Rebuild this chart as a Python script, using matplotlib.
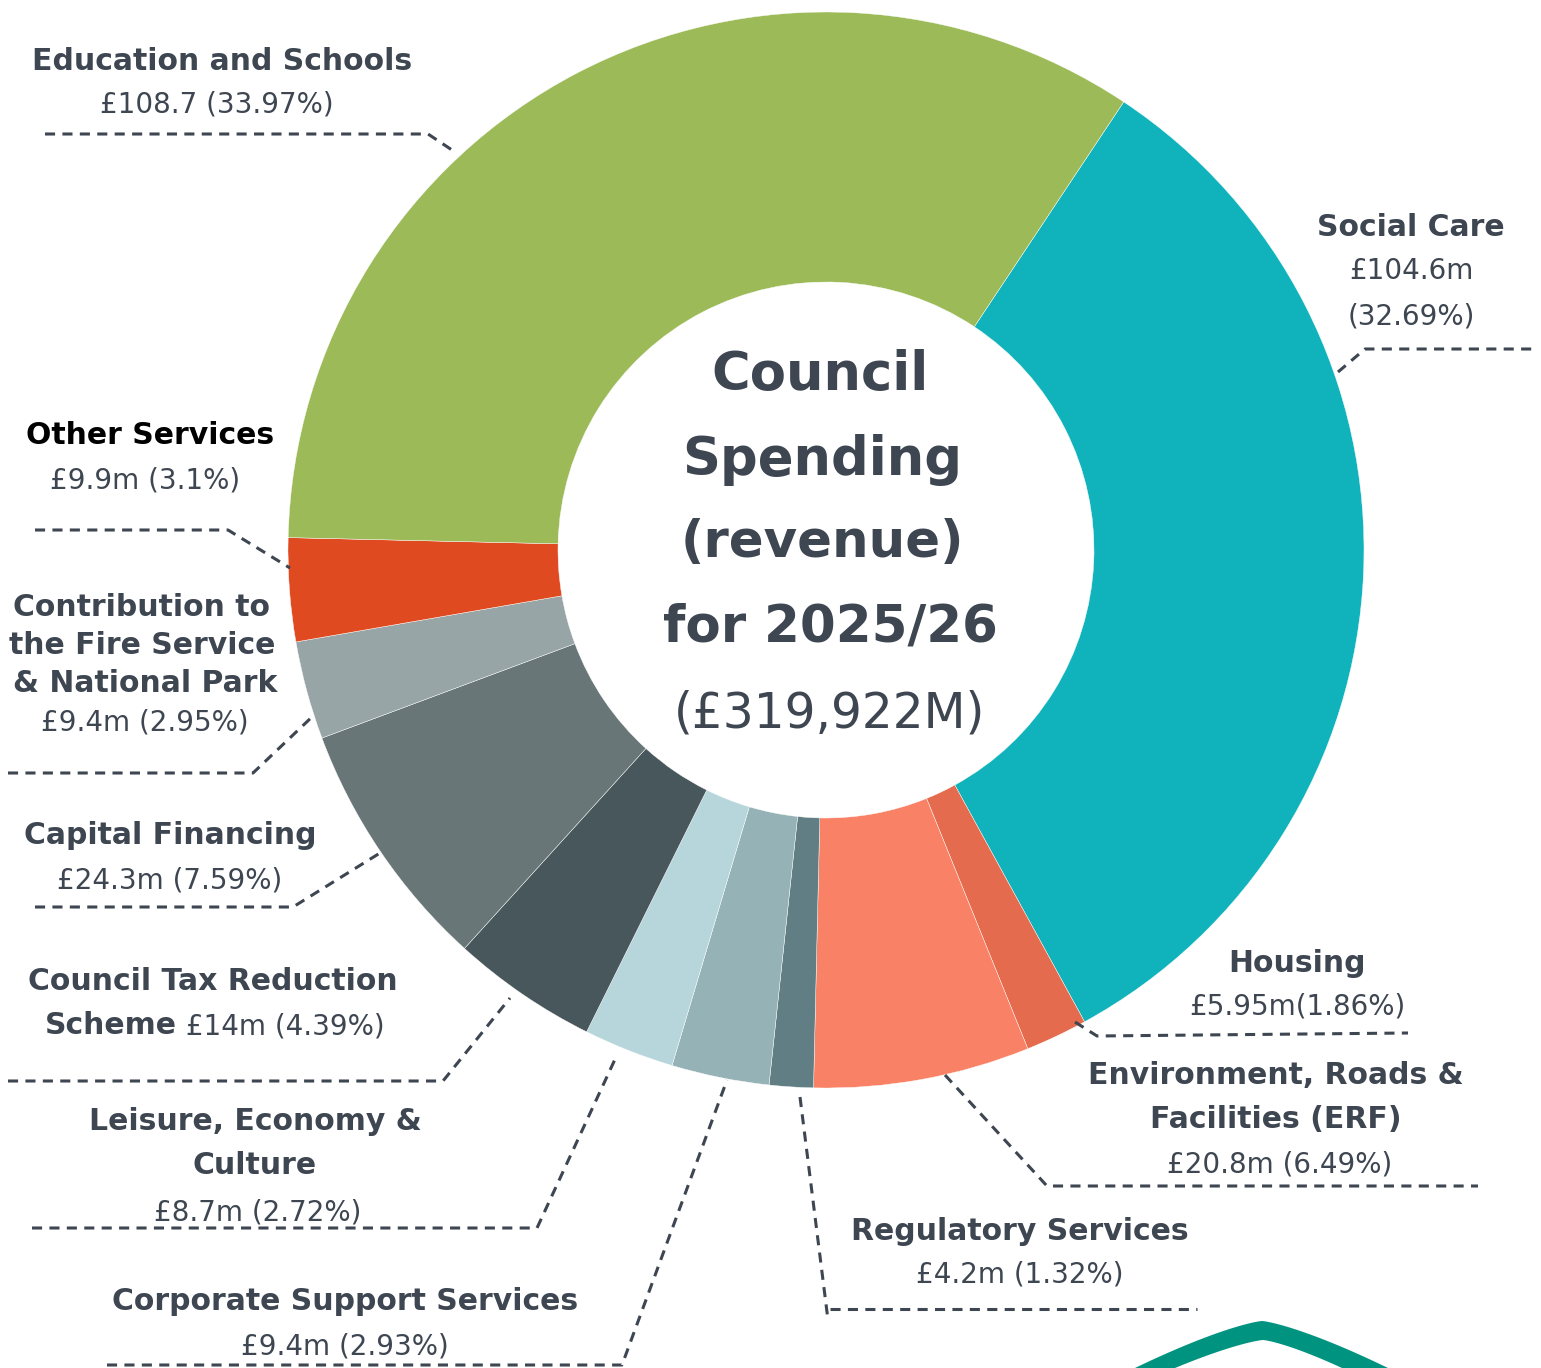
import matplotlib
matplotlib.use("Agg")
import matplotlib.pyplot as plt
import numpy as np

W, H = 1541, 1368

# ---- data (clockwise from the Social Care / Education boundary) ----
categories = ["Social Care", "Housing", "Environment, Roads & Facilities (ERF)",
              "Regulatory Services", "Corporate Support Services",
              "Leisure, Economy & Culture", "Council Tax Reduction Scheme",
              "Capital Financing", "Contribution to the Fire Service & National Park",
              "Other Services", "Education and Schools"]
amounts_m = [104.6, 5.95, 20.8, 4.2, 9.4, 8.7, 14.0, 24.3, 9.4, 9.9, 108.7]
percents = [32.69, 1.86, 6.49, 1.32, 2.93, 2.72, 4.39, 7.59, 2.95, 3.10, 33.97]
colors = ["#10B3BB", "#E56B4E", "#F98266", "#607E83", "#95B2B6", "#B7D6DB",
          "#48575B", "#687677", "#98A5A7", "#E04A20", "#9CBB58"]

TXT = "#3E4651"
FONT = "DejaVu Sans"


def Y(y):
    return H - y


fig = plt.figure(figsize=(W / 100, H / 100), dpi=100)
ax = fig.add_axes([0, 0, 1, 1])

cx, cy, R, width = 826, 550, 538, 270
ax.pie(percents, colors=colors, startangle=56.4, counterclock=False,
       center=(cx, Y(cy)), radius=R,
       wedgeprops=dict(width=width, edgecolor="white", linewidth=0.3))
ax.set_xlim(0, W)
ax.set_ylim(0, H)
ax.set_aspect("equal")
ax.set_axis_off()

# ---- centre title ----
centre = [("Council", "bold", 38, 820, 375),
          ("Spending", "bold", 38, 822, 460),
          ("(revenue)", "bold", 37, 822, 543),
          ("for 2025/26", "bold", 37, 830, 628),
          ("(£319,922M)", "normal", 35, 830, 713)]
for t, w, s, x, y in centre:
    ax.text(x, Y(y), t, ha="center", va="center", fontsize=s, fontweight=w,
            color=TXT, family=FONT)

# ---- labels: (text, weight, x, y, ha, color) ----
BS, RS = 21.5, 20
labels = [
    ("Education and Schools", "bold", 222, 61, "center", TXT),
    ("£108.7 (33.97%)", "normal", 217, 105, "center", TXT),
    ("Social Care", "bold", 1411, 227, "center", TXT),
    ("£104.6m", "normal", 1411, 271, "center", TXT),
    ("(32.69%)", "normal", 1411, 317, "center", TXT),
    ("Other Services", "bold", 150, 436, "center", "#000000"),
    ("£9.9m (3.1%)", "normal", 145, 481, "center", TXT),
    ("Contribution to", "bold", 142, 608, "center", TXT),
    ("the Fire Service", "bold", 142, 646, "center", TXT),
    ("& National Park", "bold", 145, 684, "center", TXT),
    ("£9.4m (2.95%)", "normal", 145, 723, "center", TXT),
    ("Capital Financing", "bold", 170, 835, "center", TXT),
    ("£24.3m (7.59%)", "normal", 170, 880, "center", TXT),
    ("Council Tax Reduction", "bold", 213, 981, "center", TXT),
    ("Scheme", "bold", 177, 1026, "right", TXT),
    (" £14m (4.39%)", "normal", 177, 1026, "left", TXT),
    ("Leisure, Economy &", "bold", 255, 1122, "center", TXT),
    ("Culture", "bold", 255, 1166, "center", TXT),
    ("£8.7m (2.72%)", "normal", 258, 1212, "center", TXT),
    ("Corporate Support Services", "bold", 345, 1302, "center", TXT),
    ("£9.4m (2.93%)", "normal", 345, 1346, "center", TXT),
    ("Regulatory Services", "bold", 1020, 1231, "center", TXT),
    ("£4.2m (1.32%)", "normal", 1020, 1275, "center", TXT),
    ("Environment, Roads &", "bold", 1276, 1076, "center", TXT),
    ("Facilities (ERF)", "bold", 1276, 1119, "center", TXT),
    ("£20.8m (6.49%)", "normal", 1280, 1165, "center", TXT),
    ("Housing", "bold", 1297, 963, "center", TXT),
    ("£5.95m(1.86%)", "normal", 1297, 1007, "center", TXT),
]
for t, w, x, y, ha, c in labels:
    ax.text(x, Y(y), t, ha=ha, va="center", fontsize=BS if w == "bold" else RS,
            fontweight=w, color=c, family=FONT)

# ---- dashed leader lines ----
leaders = [
    [(45, 134), (428, 134), (455, 152)],
    [(1338, 372), (1365, 349), (1533, 349)],
    [(35, 530), (228, 530), (290, 568)],
    [(8, 773), (253, 773), (313, 716)],
    [(35, 907), (293, 907), (380, 853)],
    [(8, 1081), (443, 1081), (510, 998)],
    [(32, 1228), (537, 1228), (617, 1055)],
    [(107, 1365), (622, 1365), (727, 1080)],
    [(800, 1097), (828, 1320)],
    [(830, 1309), (1197, 1309)],
    [(945, 1075), (1047, 1186), (1478, 1186)],
    [(1075, 1022), (1097, 1036), (1408, 1033)],
]
for pts in leaders:
    xs = [p[0] for p in pts]
    ys = [Y(p[1]) for p in pts]
    ax.plot(xs, ys, color=TXT, lw=2.2, linestyle=(0, (3.3, 2.4)),
            solid_capstyle="butt", dash_capstyle="butt")

# ---- partial logo arch (bottom right) ----
def arch(apex_x, apex_y, left_w, right_w, drop, p=1.3):
    xl = np.linspace(-left_w, 0, 60)
    xr = np.linspace(0, right_w, 60)
    yl = apex_y + drop * (np.abs(xl) / left_w) ** p
    yr = apex_y + drop * (np.abs(xr) / right_w) ** p
    return np.concatenate([xl, xr[1:]]) + apex_x, np.concatenate([yl, yr[1:]])

ox, oy = arch(1262, 1321, 127, 126, 47)
ix, iy = arch(1263, 1340, 88, 79, 28)
px = np.concatenate([ox, ix[::-1]])
py = np.concatenate([oy, iy[::-1]])
ax.fill(px, [Y(v) for v in py], color="#009480", lw=0)

fig.savefig("out.png", dpi=100, facecolor="white")
